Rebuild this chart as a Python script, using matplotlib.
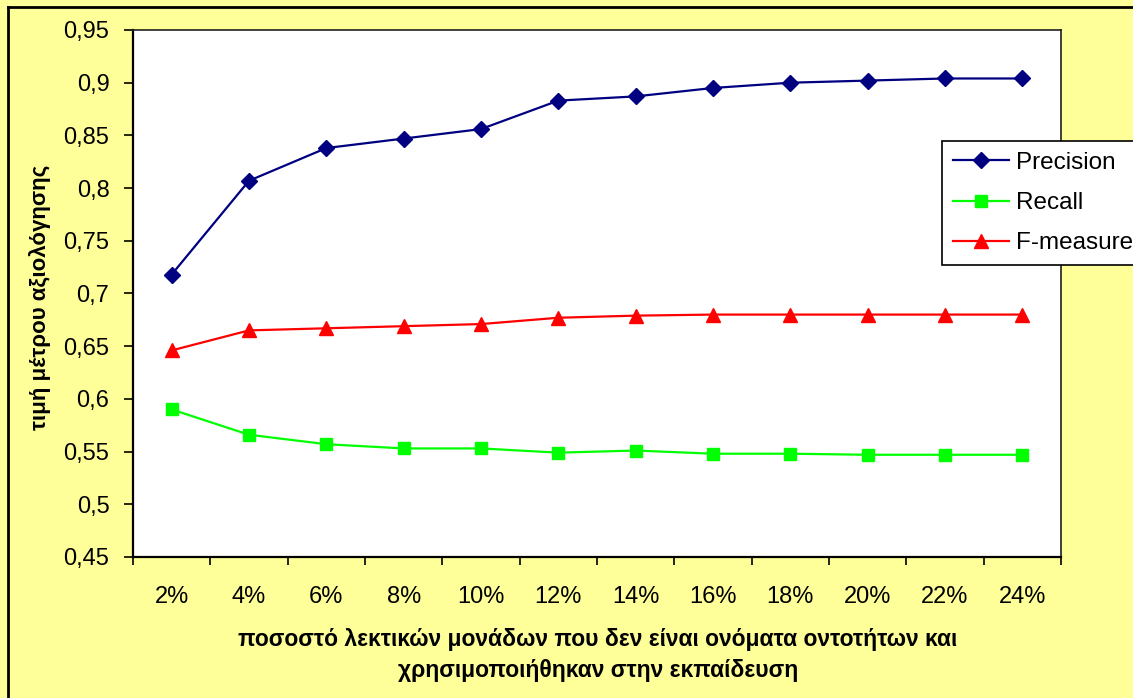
import matplotlib
matplotlib.use("Agg")
import matplotlib.pyplot as plt
from matplotlib.lines import Line2D
from matplotlib.ticker import FuncFormatter, FixedLocator

plt.rcParams['font.family'] = ['Liberation Sans', 'DejaVu Sans']

# Data
categories = ["2%", "4%", "6%", "8%", "10%", "12%", "14%", "16%", "18%", "20%", "22%", "24%"]
precision = [0.718, 0.807, 0.838, 0.847, 0.856, 0.883, 0.887, 0.895, 0.900, 0.902, 0.904, 0.904]
recall = [0.590, 0.566, 0.557, 0.553, 0.553, 0.549, 0.551, 0.548, 0.548, 0.547, 0.547, 0.547]
f_measure = [0.646, 0.665, 0.667, 0.669, 0.671, 0.677, 0.679, 0.680, 0.680, 0.680, 0.680, 0.680]
series_names = ["Precision", "Recall", "F-measure"]
y_label = "τιμή μέτρου αξιολόγησης"
x_label = "ποσοστό λεκτικών μονάδων που δεν είναι ονόματα οντοτήτων και\nχρησιμοποιήθηκαν στην εκπαίδευση"

W, H = 1133, 698
fig = plt.figure(figsize=(W / 100, H / 100), dpi=100)
fig.patch.set_facecolor('#FFFF99')

ax = fig.add_axes([133 / W, 1 - 557 / H, (1061 - 133) / W, (557 - 30) / H])
ax.set_facecolor('white')

x = list(range(len(categories)))
ax.plot(x, precision, color='#000080', lw=1.6, marker='D', ms=8.5, mec='#000080',
        mfc='#000080', label=series_names[0])
ax.plot(x, recall, color='#00FF00', lw=1.6, marker='s', ms=8.5, mec='#00FF00',
        mfc='#00FF00', label=series_names[1])
ax.plot(x, f_measure, color='#FF0000', lw=1.6, marker='^', ms=9.5, mec='#FF0000',
        mfc='#FF0000', label=series_names[2])

ax.set_xlim(-0.5, len(categories) - 0.5)
ax.set_ylim(0.45, 0.95)

# category labels sit between tick marks
ax.set_xticks(x)
ax.set_xticklabels(categories, fontsize=17)
ax.tick_params(axis='x', which='major', length=0, pad=21)
ax.xaxis.set_minor_locator(FixedLocator([i - 0.5 for i in range(len(categories) + 1)]))
ax.tick_params(axis='x', which='minor', length=6, width=1.2, direction='out', color='black')

yt = [0.45 + 0.05 * i for i in range(11)]
ax.set_yticks(yt)
ax.yaxis.set_major_formatter(FuncFormatter(lambda v, p: ("%g" % round(v, 2)).replace('.', ',')))
ax.tick_params(axis='y', length=6.5, width=1.2, direction='out', pad=10.5, labelsize=17)

for side in ['left', 'bottom']:
    ax.spines[side].set_linewidth(1.6)
    ax.spines[side].set_color('black')
for side in ['top', 'right']:
    ax.spines[side].set_linewidth(1.2)
    ax.spines[side].set_color('#202020')

fig.text(40 / W, 1 - 297 / H, y_label, rotation=90, ha='center', va='center',
         fontsize=16, fontweight='bold')
fig.text(598 / W, 1 - 655 / H, x_label, ha='center', va='center', multialignment='center',
         fontsize=16.5, fontweight='bold', linespacing=1.45)

leg = ax.legend(loc='upper left', bbox_to_anchor=(942 / W, 1 - 141 / H),
                bbox_transform=fig.transFigure, prop={'size': 17.5}, frameon=True,
                fancybox=False, shadow=False, borderpad=0.45, labelspacing=0.75,
                handlelength=2.3, handletextpad=0.3, borderaxespad=0, markerscale=1.0)
leg.get_frame().set_edgecolor('black')
leg.get_frame().set_linewidth(1.2)
leg.get_frame().set_facecolor('white')
leg.get_frame().set_alpha(1)

# outer chart frame (left and top edges)
fig.add_artist(Line2D([8 / W, 8 / W], [0, 1 - 7 / H], transform=fig.transFigure,
                      color='black', lw=2))
fig.add_artist(Line2D([8 / W, 1], [1 - 7 / H, 1 - 7 / H], transform=fig.transFigure,
                      color='black', lw=2))

fig.savefig('out.png', dpi=100, facecolor=fig.get_facecolor())
